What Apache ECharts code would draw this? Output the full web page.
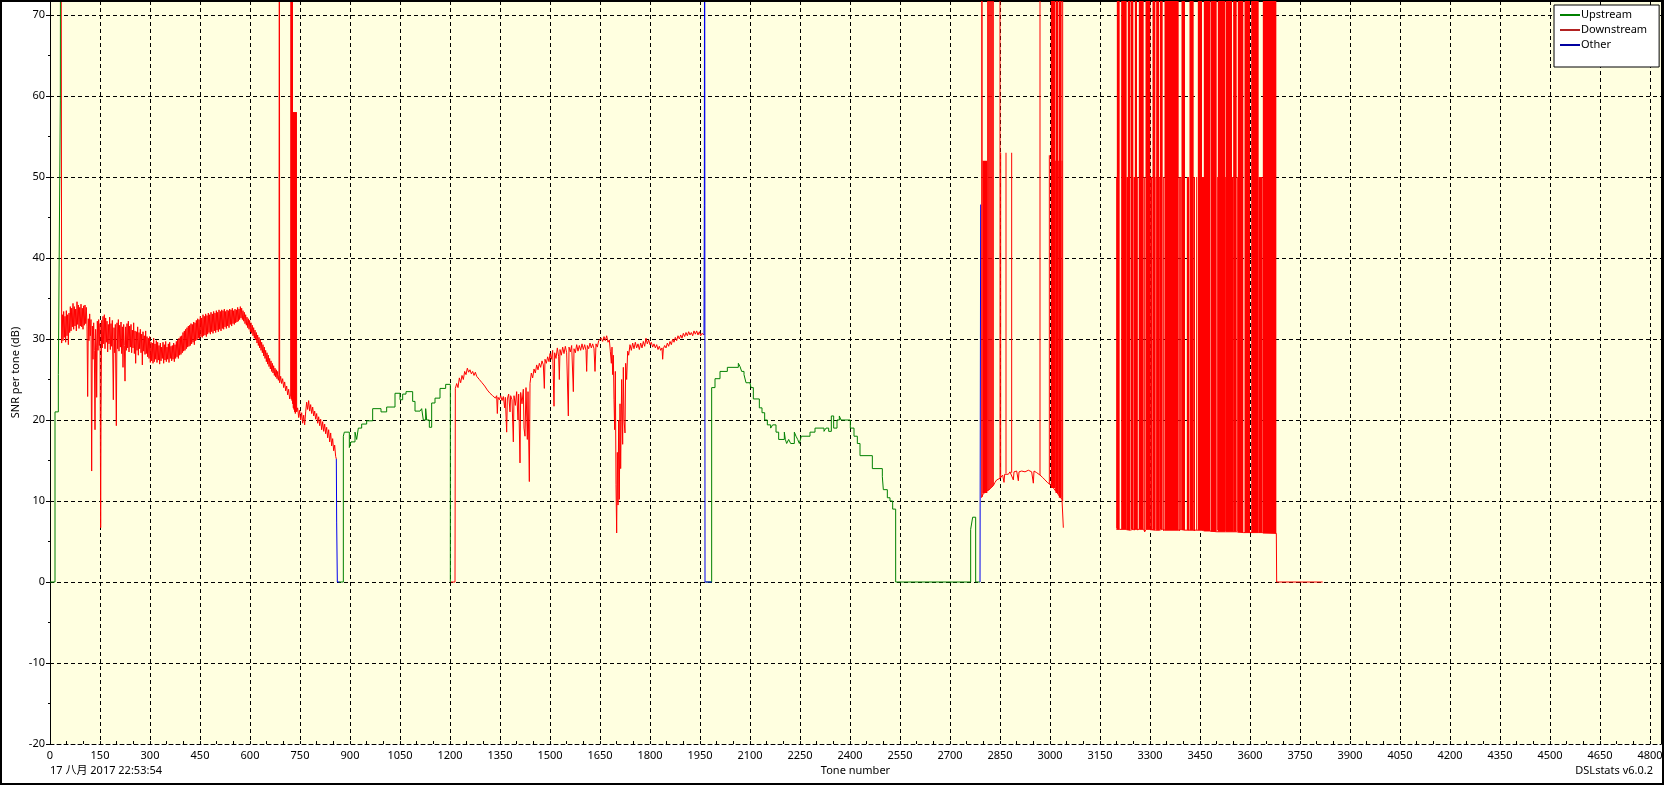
<!DOCTYPE html>
<html><head><meta charset="utf-8">
<script src="https://cdn.jsdelivr.net/npm/echarts@6/dist/echarts.min.js"></script>
<style>html,body{margin:0;padding:0;background:#fff}#c{width:1664px;height:785px}</style>
</head><body><div id="c"></div><script>
// ---------- data (tone number, SNR dB); null breaks a line ----------
const seriesNames = ['Upstream', 'Downstream', 'Other'];

// Upstream levels (drawn as steps)
const upstream = [
[0,0],[15,21],[25,25.6],[31,59.5],[32,100],[33,100],[33,null],
[866,0],[880,18.0],[883,18.5],[898,16.6],[903,17.3],[915,18.5],[920,17.6],[925,19.0],[935,19.5],[950,19.9],[968,21.4],[993,21.0],[1010,21.6],[1035,23.3],[1050,22.5],[1058,23.2],[1068,23.5],[1088,22.3],[1095,21.1],[1110,20.9],[1115,21.4],[1120,20.0],[1127,21.4],[1130,20.0],[1138,19.1],[1145,22.1],[1155,22.7],[1170,23.9],[1187,24.4],[1201,0],[1203,0],[1203,null],
[1968,0],[1985,24.0],[1995,25.1],[2010,26.0],[2032,26.5],[2065,27.0],[2070,26.6],[2075,26.0],[2082,25.6],[2088,24.6],[2100,24.4],[2103,24.0],[2110,22.6],[2128,21.5],[2136,20.9],[2144,20.0],[2152,19.4],[2162,19.0],[2168,19.4],[2178,18.5],[2186,17.6],[2203,18.5],[2206,17.6],[2210,17.1],[2216,17.6],[2222,17.1],[2233,18.5],[2238,18.0],[2243,17.6],[2248,17.1],[2254,18.0],[2280,18.5],[2295,19.0],[2322,18.6],[2328,19.0],[2336,18.6],[2344,20.5],[2351,19.0],[2361,20.0],[2368,20.5],[2373,20.0],[2401,19.0],[2412,18.0],[2422,17.1],[2430,15.6],[2467,14.0],[2497,13.0],[2500,11.4],[2512,10.4],[2520,10.0],[2528,9.0],[2537,0],[2762,6.5],[2768,8.0],[2777,0],[2790,0]
];

// Downstream, band 1
const dsBand1 = [
[33,100],[35,29.5],[37,33.0],[39,29.8],[41,33.4],[43,30.2],[45,32.8],[47,29.6],[49,33.5],[51,30.4],[53,33.0],[55,29.3],[57,33.2],[59,30.8],[61,34.0],[63,31.0],[65,33.8],[67,31.5],[69,34.4],[71,31.2],[73,34.0],[75,31.6],[77,33.7],[79,31.0],[81,34.6],[83,31.8],[85,34.2],[87,31.3],[89,33.9],[91,31.6],[93,34.3],[95,31.5],[97,33.8],[99,31.2],[101,34.1],[103,31.7],[105,34.2],[107,31.9],[109,33.9],[111,31.5],[113,22.9],[115,32.5],[117,29.8],[119,33.1],[121,30.4],[123,32.4],[125,13.7],[127,31.6],[129,27.5],[131,32.0],[133,28.6],[135,18.8],[137,31.2],[139,29.0],[140,22.8],[142,32.2],[144,28.6],[146,32.4],[148,29.2],[150,31.9],[152,6.7],[153,20.4],[155,32.3],[157,28.9],[159,32.8],[161,29.4],[163,33.0],[165,28.8],[167,32.6],[169,29.6],[171,32.2],[173,28.4],[175,31.8],[177,29.4],[179,32.7],[181,28.7],[183,31.9],[185,29.1],[187,32.3],[190,22.5],[192,31.4],[194,28.3],[196,31.8],[199,19.3],[201,32.0],[203,28.8],[205,32.4],[207,28.5],[209,31.7],[211,29.0],[213,32.1],[215,28.2],[217,31.5],[219,26.5],[221,31.8],[223,29.2],[225,24.8],[227,31.5],[229,28.6],[231,31.9],[233,28.9],[235,32.2],[237,28.4],[239,31.6],[241,29.0],[243,31.8],[245,28.3],[247,31.1],[249,28.9],[251,32.0],[253,28.2],[255,31.0],[257,27.0],[259,30.9],[261,28.6],[263,31.5],[265,28.0],[267,30.8],[269,28.8],[271,31.2],[273,28.3],[275,30.6],[277,26.8],[279,30.9],[281,28.5],[283,30.4],[285,28.1],[287,31.0],[289,28.2],[291,30.3],[293,27.8],[295,30.1],[297,27.6],[299,30.3],[301,27.1],[303,29.6],[305,27.3],[307,29.5],[309,27.0],[311,30.1],[313,27.2],[315,29.4],[317,27.5],[319,29.8],[321,27.1],[323,29.6],[325,27.4],[327,29.2],[329,26.9],[331,29.5],[333,27.3],[335,29.0],[337,27.6],[339,29.6],[341,27.0],[343,29.3],[345,27.4],[347,29.7],[349,27.2],[351,29.0],[353,27.5],[355,29.4],[357,27.1],[359,29.6],[361,27.6],[363,29.1],[365,27.3],[367,29.2],[369,27.5],[371,29.5],[373,27.2],[375,29.3],[377,27.6],[379,29.7],[381,27.8],[383,29.9],[385,27.6],[387,30.1],[389,28.0],[391,30.3],[393,28.1],[395,30.4],[397,28.3],[399,30.8],[401,28.5],[403,31.0],[405,28.6],[407,31.2],[409,28.8],[411,31.4],[413,29.0],[415,31.6],[417,29.1],[419,31.7],[421,29.2],[423,31.9],[425,29.4],[427,31.8],[429,29.6],[431,32.1],[433,29.3],[435,32.0],[437,29.8],[439,32.3],[441,29.9],[443,32.5],[445,30.1],[447,32.4],[449,30.0],[451,32.8],[453,30.3],[455,32.6],[457,30.2],[459,33.0],[461,30.4],[463,32.8],[465,30.5],[467,33.1],[469,30.3],[471,32.9],[473,30.6],[475,33.2],[477,30.8],[479,33.0],[481,30.6],[483,33.3],[485,30.9],[487,33.1],[489,30.7],[491,33.4],[493,31.0],[495,33.2],[497,30.8],[499,33.5],[501,31.1],[503,33.3],[505,30.9],[507,33.6],[509,31.2],[511,33.4],[513,31.0],[515,33.6],[517,31.3],[519,33.5],[521,31.2],[523,33.7],[525,31.5],[527,33.4],[529,31.3],[531,33.6],[533,31.6],[535,33.5],[537,31.4],[539,33.7],[541,31.8],[543,33.6],[545,31.6],[547,33.8],[549,31.9],[551,33.5],[553,31.8],[555,33.7],[557,32.0],[559,33.6],[561,32.1],[563,33.9],[565,32.2],[567,33.7],[569,32.4],[571,34.0],[573,32.6],[575,33.8],[577,32.4],[579,33.5],[581,32.2],[583,33.3],[585,31.9],[587,33.0],[589,31.7],[591,32.7],[593,31.4],[595,32.5],[597,31.2],[599,32.3],[601,30.9],[603,32.0],[605,30.7],[607,31.7],[609,30.4],[611,31.4],[613,30.1],[615,31.1],[617,29.9],[619,30.8],[621,29.5],[623,30.5],[625,29.2],[627,30.2],[629,28.9],[631,29.9],[633,28.6],[635,29.6],[637,28.3],[639,29.3],[641,27.9],[643,29.0],[645,27.6],[647,28.6],[649,27.2],[651,28.3],[653,26.9],[655,28.0],[657,26.6],[659,27.6],[661,26.3],[663,27.3],[665,26.0],[667,27.0],[669,25.8],[671,26.7],[673,25.5],[675,26.4],[677,25.3],[679,26.2],[681,25.1],[683,26.0],[685,24.9],[687,25.6],[688,100],[689,24.6],[692,25.4],[695,24.5],[698,25.1],[701,24.0],[704,24.7],[707,23.6],[710,24.2],[713,23.1],[716,23.8],[719,22.6],[722,23.2],[723,100],[724,22.6],[725,100],[726,22.4],[727,100],[728,22.0],[729,58],[730,21.5],[731,58],[732,21.3],[733,58],[734,21.0],[735,58],[736,20.8],[737,58],[738,21.1],[739,58],[740,21.0],[743,21.5],[746,20.3],[749,21.2],[752,20.0],[755,20.9],[758,19.6],[761,20.6],[764,19.4],[767,21.0],[770,22.2],[773,21.3],[776,22.4],[779,21.1],[782,21.9],[785,20.8],[788,21.6],[791,20.5],[794,21.1],[797,20.1],[800,20.8],[803,19.6],[806,20.4],[809,19.3],[812,20.1],[815,18.8],[818,19.8],[821,18.6],[824,19.5],[827,18.3],[830,19.1],[833,17.8],[836,18.8],[839,17.3],[842,18.4],[845,16.8],[848,17.7],[851,16.2],[854,16.9],[857,15.5],[859,15.2]
];

// Downstream, band 2
const dsBand2 = [
[1203,0],[1215,0],[1216,23.9],[1220,24.5],[1224,24.0],[1228,25.2],[1232,24.6],[1236,25.5],[1240,25.0],[1244,26.0],[1248,25.6],[1252,26.4],[1256,25.9],[1260,26.2],[1264,25.7],[1268,26.0],[1272,25.5],[1276,25.9],[1280,25.4],[1284,25.6],[1288,25.0],[1292,25.2],[1296,24.6],[1300,24.8],[1304,24.2],[1308,24.3],[1312,23.7],[1316,23.9],[1320,23.3],[1324,23.5],[1328,23.0],[1332,23.2],[1336,22.7],[1340,23.0],[1342,20.8],[1344,22.8],[1348,22.5],[1352,23.0],[1356,22.4],[1360,22.9],[1364,21.5],[1366,22.8],[1370,18.5],[1372,22.6],[1376,23.2],[1380,21.0],[1382,23.0],[1386,22.5],[1390,17.3],[1392,23.0],[1396,21.8],[1400,23.5],[1404,20.0],[1406,23.2],[1410,14.7],[1412,23.4],[1416,22.0],[1420,23.8],[1422,19.0],[1425,18.0],[1428,24.0],[1432,17.6],[1434,23.5],[1438,12.4],[1440,24.5],[1444,25.8],[1448,25.2],[1452,26.3],[1456,25.8],[1460,26.8],[1464,26.2],[1468,27.0],[1472,26.5],[1476,27.3],[1480,26.8],[1483,23.9],[1485,27.5],[1489,27.0],[1493,27.8],[1497,27.2],[1500,28.2],[1504,27.5],[1508,28.6],[1512,21.7],[1514,28.3],[1518,27.6],[1522,28.9],[1526,27.8],[1528,25.0],[1530,28.7],[1534,28.0],[1538,29.0],[1542,28.2],[1546,29.1],[1550,28.3],[1555,20.5],[1557,29.0],[1561,28.4],[1565,29.2],[1570,23.5],[1572,28.8],[1576,28.3],[1580,29.3],[1584,28.5],[1588,29.2],[1592,28.6],[1596,29.4],[1600,28.7],[1604,29.3],[1608,28.6],[1610,26.0],[1612,29.2],[1616,28.8],[1620,29.5],[1624,28.9],[1628,29.4],[1632,28.8],[1635,26.0],[1638,29.4],[1642,29.0],[1646,29.8],[1650,29.6],[1654,30.1],[1658,29.7],[1662,30.3],[1666,29.8],[1670,30.4],[1674,29.6],[1678,29.9],[1681,28.5],[1684,27.0],[1686,29.0],[1688,25.6],[1690,28.0],[1692,22.5],[1694,18.8],[1696,26.0],[1698,12.0],[1700,6.05],[1702,16.0],[1704,9.5],[1706,20.0],[1708,10.2],[1710,22.0],[1712,14.0],[1715,25.0],[1718,17.0],[1720,26.5],[1722,20.0],[1725,18.4],[1727,27.0],[1730,25.0],[1733,28.5],[1736,28.0],[1740,29.3],[1744,28.6],[1748,29.5],[1752,28.8],[1756,29.6],[1760,28.9],[1764,29.4],[1768,28.7],[1772,29.5],[1776,28.9],[1780,29.7],[1784,29.1],[1788,30.1],[1792,29.4],[1796,29.9],[1800,29.3],[1804,29.6],[1808,29.0],[1812,29.4],[1816,28.9],[1820,29.3],[1824,28.7],[1828,29.1],[1832,28.6],[1836,28.9],[1838,27.5],[1840,28.8],[1844,29.2],[1848,28.9],[1852,29.5],[1856,29.1],[1860,29.7],[1864,29.3],[1868,30.0],[1872,29.6],[1876,30.2],[1880,29.8],[1884,30.4],[1888,30.0],[1892,30.5],[1896,30.1],[1900,30.7],[1904,30.3],[1908,30.8],[1912,30.4],[1916,30.9],[1920,30.5],[1924,30.8],[1928,30.4],[1932,31.0],[1936,30.6],[1940,31.0],[1944,30.5],[1948,30.9],[1952,30.4],[1956,30.7],[1962,30.5]
];

// Downstream, band 3 floor curve
const dsBand3 = [
[2794,10.4],[2796,10.5],[2800,10.9],[2805,11.0],[2810,11.2],[2815,11.3],[2820,11.5],[2825,11.7],[2830,11.9],[2835,12.3],[2840,12.6],[2845,12.4],[2850,12.8],[2855,13.0],[2858,13.2],[2862,12.3],[2864,13.3],[2870,13.4],[2875,13.3],[2880,13.6],[2885,13.5],[2890,12.6],[2892,13.6],[2900,13.7],[2905,12.5],[2907,13.6],[2915,13.7],[2925,13.6],[2935,13.8],[2945,13.6],[2950,12.2],[2952,13.7],[2960,13.5],[2970,13.2],[2978,12.9],[2985,12.6],[2992,12.3],[2998,12.1],[3004,11.9],[3008,11.7],[3012,11.5],[3016,11.3],[3020,11.1],[3024,10.9],[3028,10.6],[3032,10.4],[3036,10.2],[3038,10.0],[3040,6.7]
];
// Downstream spike columns: [first tone, last tone, peak SNR, floor SNR]
const dsColumns3 = [
[2795,2798,100,10.5],[2799,2812,52,11.0],[2813,2814,100,11.3],[2815,2816,100,11.3],[2818,2819,100,11.4],[2821,2822,100,11.6],[2824,2825,100,11.7],[2827,2828,100,11.8],[2830,2831,100,11.9],
[2850,2851,100,12.8],[2852,2853,53,12.9],[2868,2869,53,13.4],[2885,2886,53,13.5],[2970,2971,100,13.2],[2998,2999,52.7,12.1],
[3004,3015,100,11.6],[3016,3017,52,11.3],[3018,3025,100,11.0],[3026,3027,52,10.8],[3028,3035,100,10.4],[3036,3037,52,10.2],[3038,3039,100,10.0]
];
const dsColumns4 = [
[3200,3201,50,6.6],[3202,3209,100,6.5],[3215,3230,100,6.5],[3231,3234,50,6.4],[3235,3240,100,6.4],[3243,3250,100,6.5],[3252,3255,50,6.4],[3256,3261,100,6.5],[3263,3264,50,6.4],
[3268,3281,100,6.5],[3284,3285,50,6.2],[3288,3301,100,6.5],[3302,3307,50,6.4],[3309,3316,100,6.4],[3318,3319,50,6.5],[3320,3327,100,6.4],[3328,3329,50,6.4],[3331,3338,100,6.5],[3341,3342,50,6.3],
[3345,3386,100,6.4],[3388,3389,50,6.3],[3392,3395,50,6.5],[3396,3405,100,6.4],[3412,3417,50,6.4],[3420,3431,100,6.4],[3432,3435,50,6.3],[3440,3441,50,6.4],
[3445,3456,100,6.4],[3457,3462,50,6.4],[3463,3480,100,6.3],[3483,3500,100,6.2],[3503,3504,50,6.4],[3505,3526,100,6.2],[3527,3528,50,6.3],[3529,3546,100,6.2],[3547,3550,50,6.2],
[3551,3560,100,6.2],[3563,3564,50,6.3],[3565,3580,100,6.1],[3585,3600,100,6.1],[3605,3626,100,6.1],[3627,3638,50,6.1],[3640,3679,100,6.0]
];
const dsBand4Start = [[3199,6.5]];
const dsBand4End = [[3679,6.0],[3680,0],[3818,0]];

// Other
const other = [
[859,15.2],[860,7.4],[862,7.4],[862,0],[868,0],[868,null],
[1962,30.5],[1963,46.5],[1964,100],[1965,0],[1985,0],[1985,null],
[2790,0],[2792,0],[2792,46.6]
];

// ---------- build ----------
const band4Floor = [];
dsColumns4.forEach(c => { band4Floor.push([c[0], c[3]]); band4Floor.push([c[1], c[3]]); });
const downstream = [].concat(dsBand1, [[860,null]], dsBand2, [[1963,null]], dsBand3, [[3041,null]], dsBand4Start, band4Floor, dsBand4End);
const downColumns = [].concat(dsColumns3, dsColumns4);

const FONT = "'Noto Sans', 'Noto Sans CJK SC', sans-serif";
const RED = '#ff0000';
const chart = echarts.init(document.getElementById('c'), null, {renderer: 'canvas'});
const dash = [4, 3];
chart.setOption({
  animation: false,
  backgroundColor: '#ffffff',
  textStyle: {fontFamily: FONT},
  grid: {left: 50, right: 3, top: 1, bottom: 41, show: true, backgroundColor: '#ffffe0', borderWidth: 0, containLabel: false, outerBoundsMode: 'none'},
  legend: {
    data: seriesNames, orient: 'vertical', left: 1554, top: 5,
    backgroundColor: '#ffffff', borderColor: '#000', borderWidth: 1, borderRadius: 0,
    padding: [3, 12, 15, 6], itemGap: 1, itemWidth: 20, itemHeight: 2, icon: 'rect',
    textStyle: {fontSize: 11, lineHeight: 14, color: '#000', fontFamily: FONT, padding: [0, 0, 0, -4]}
  },
  xAxis: {
    type: 'value', min: 0, max: 4833, interval: 150,
    name: 'Tone number', nameLocation: 'middle', nameGap: 21, nameMoveOverlap: false,
    nameTextStyle: {fontSize: 11, color: '#000', fontFamily: FONT},
    axisLine: {onZero: false, lineStyle: {color: '#000', type: dash, width: 1}},
    axisTick: {show: true, inside: true, length: 3, lineStyle: {color: '#000'}},
    minorTick: {show: true, splitNumber: 3, length: 3, lineStyle: {color: '#000'}},
    axisLabel: {fontSize: 11, color: '#000', margin: 6, showMaxLabel: false, fontFamily: FONT, formatter: v => String(v)},
    splitLine: {show: true, lineStyle: {color: '#000', type: dash, width: 1}}
  },
  yAxis: [{
    type: 'value', min: -20, max: 71.73, interval: 10,
    name: 'SNR per tone (dB)', nameLocation: 'middle', nameGap: 29, nameMoveOverlap: false,
    nameTextStyle: {fontSize: 11, color: '#000', fontFamily: FONT},
    axisLine: {show: true, onZero: false, lineStyle: {color: '#000', width: 1}},
    axisTick: {show: true, length: 4, lineStyle: {color: '#000'}},
    minorTick: {show: true, splitNumber: 2, length: 2, lineStyle: {color: '#000'}},
    axisLabel: {fontSize: 11, color: '#000', margin: 5, showMaxLabel: false, fontFamily: FONT, formatter: v => String(v)},
    splitLine: {show: true, lineStyle: {color: '#000', type: dash, width: 1}}
  }, {
    type: 'value', position: 'right', min: -20, max: 71.73, interval: 10,
    axisLine: {show: true, onZero: false, lineStyle: {color: '#000', type: dash, width: 1}},
    axisTick: {show: false}, axisLabel: {show: false}, splitLine: {show: false}
  }],
  graphic: [
    {type: 'text', left: 50, top: 765, style: {text: '17 八月 2017 22:53:54', fontSize: 11, fontFamily: FONT, fill: '#000'}},
    {type: 'text', right: 11, top: 765, style: {text: 'DSLstats v6.0.2', fontSize: 11, fontFamily: FONT, fill: '#000'}},
    {type: 'rect', z: 100, silent: true, shape: {x: 1, y: 1, width: 1662, height: 783}, style: {fill: null, stroke: '#000', lineWidth: 2}}
  ],
  series: [
    {name: 'Upstream', type: 'line', data: upstream, step: 'end', showSymbol: false, symbol: 'none', connectNulls: false,
     lineStyle: {width: 1, color: '#008000'}, itemStyle: {color: '#008000'}, z: 3},
    {name: 'Downstream', type: 'line', data: downstream, showSymbol: false, symbol: 'none', connectNulls: false,
     lineStyle: {width: 1, color: RED}, itemStyle: {color: '#b22222'}, z: 2},
    {name: 'Downstream', type: 'custom', data: downColumns, clip: false, encode: {x: [0, 1], y: [2, 3]}, z: 10, zlevel: 1, silent: true,
     renderItem: function (params, api) {
       const a = api.coord([api.value(0), api.value(3)]);
       const b = api.coord([api.value(1), 71.73]);
       const c = api.coord([api.value(1), api.value(2)]);
       const yPeak = Math.max(c[1], b[1]);
       return {type: 'rect', shape: {x: a[0] - 0.5, y: yPeak, width: Math.max(1, b[0] - a[0] + 0.5), height: a[1] - yPeak},
               style: {fill: RED, stroke: null}};
     }},
    {name: 'Other', type: 'line', data: other, showSymbol: false, symbol: 'none', connectNulls: false,
     lineStyle: {width: 1, color: '#0000ee'}, itemStyle: {color: '#0000a0'}, z: 4}
  ]
});
</script></body></html>
